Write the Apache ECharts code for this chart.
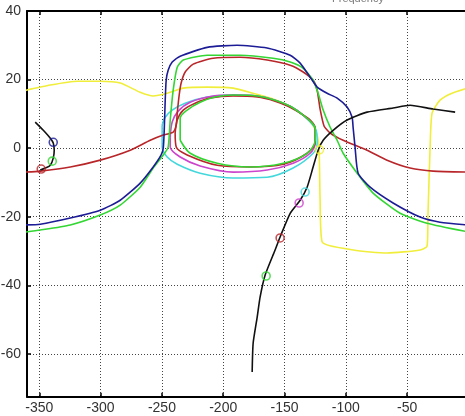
<!DOCTYPE html>
<html>
<head>
<meta charset="utf-8">
<script src="https://cdn.jsdelivr.net/npm/echarts@6/dist/echarts.min.js"></script>
<style>
  html, body { margin: 0; padding: 0; background: #fff; }
  #chart { width: 465px; height: 416px; }
</style>
</head>
<body>
<div id="chart"></div>
<script>
// Tick labels shown on each axis
const xTickValues = [-350, -300, -250, -200, -150, -100, -50];
const yTickValues = [-60, -40, -20, 0, 20, 40];

// Open-loop responses: [phase (deg), gain (dB)]
const blueCurve = [[-362,-22.4],[-349.2,-22.2],[-324.7,-20.4],[-300.3,-18.1],[-284,-15.2],[-267.7,-10.2],[-257.1,-5.5],[-250.6,-2.0],[-248.9,0],[-248.1,5.2],[-247.3,14],[-246.5,19.8],[-244.9,22.7],[-241.6,25.1],[-235.1,26.8],[-213.1,29.4],[-188.6,30],[-164.2,29.2],[-145.4,27.1],[-137.3,24.8],[-129.1,20.7],[-123.4,17.8],[-115.3,16],[-107.1,14.6],[-99,12],[-94.9,9],[-94.1,6.1],[-92.5,0.3],[-90,-7.3],[-80.2,-11.4],[-61.5,-16],[-39.5,-20.1],[-23.2,-21.6],[2,-22.5]];

const greenCurve = [[-362,-24.5],[-349.2,-23.9],[-324.7,-22.4],[-300.3,-19.5],[-284,-16.6],[-267.7,-11.4],[-257.1,-5.8],[-248.9,-2.0],[-244.9,0.3],[-243.2,8.2],[-240.8,16.9],[-237.5,23.6],[-232.6,25.7],[-213.1,27.1],[-186.2,27.1],[-159.3,26.2],[-145.4,25.1],[-134.8,23.3],[-126.7,19.8],[-122.6,16],[-118.5,11.1],[-112.8,6.1],[-107.1,2.3],[-102.2,-1.5],[-90.8,-7.3],[-77.8,-13.1],[-55.8,-19],[-33.8,-21.9],[2,-24.6]];

const greenLoop = [[-235.1,2.3],[-235.1,8.7],[-229.4,11.1],[-218.8,13.4],[-206.6,14.9],[-191.9,15.5],[-172.3,15.2],[-157.7,14.0],[-145.4,12.2],[-134.8,9.6],[-127.5,7.3],[-125,5.8],[-125,2.3],[-131.6,-1.5],[-151.1,-4.4],[-178,-5.5],[-204.9,-4.4],[-226.9,-1.5],[-235.1,2.3]];

const redCurve = [[-362,-7.0],[-349.2,-6.7],[-324.7,-5.5],[-300.3,-3.5],[-275.8,-0.6],[-259.5,2.3],[-248.9,3.8],[-240.8,4.7],[-238.3,6.7],[-237.5,10.2],[-235.9,15.5],[-234.3,19.0],[-231,22.2],[-224.5,24.5],[-208.2,26.2],[-186.2,26.5],[-164.2,25.7],[-145.4,24.2],[-134.8,22.2],[-126.7,19.8],[-123.4,16.9],[-121,11.4],[-117.7,6.4],[-112.8,4.4],[-102.2,2.3],[-82.7,-0.6],[-66.4,-3.5],[-47.6,-5.8],[-28.9,-6.7],[2,-7.0]];

const redLoop = [[-239.2,4.4],[-238.3,0.3],[-229.4,-2.0],[-204.9,-5.0],[-178,-5.5],[-151.1,-4.7],[-131.6,-1.5],[-125,1.7],[-125,5.8],[-129.1,8.2],[-137.3,10.2],[-147.1,12.2],[-157.7,13.7],[-172.3,14.9],[-191.9,15.2],[-210.6,14.6],[-222.9,13.1],[-232.6,11.1],[-237.5,8.2],[-239.2,4.4]];

const magentaLoop = [[-243.2,3.2],[-243.2,0.3],[-235.1,-2.6],[-218.8,-5.2],[-191.9,-7.0],[-164.2,-6.4],[-143,-4.4],[-129.1,-1.5],[-125,1.5],[-125,5.8],[-134.8,9.6],[-145.4,12.2],[-157.7,14.0],[-172.3,15.2],[-191.9,15.5],[-208.2,15.2],[-226.9,13.4],[-236.7,10.8],[-241.6,7.6],[-243.2,3.2]];

const cyanLoop = [[-249.8,6.7],[-249.8,0.3],[-245.7,-2.6],[-237.5,-4.7],[-218.8,-7.3],[-191.9,-8.7],[-164.2,-8.5],[-143,-5.8],[-126.7,-1.5],[-123.4,1.5],[-124.2,5.2],[-134.8,9.6],[-145.4,12.2],[-157.7,14.0],[-172.3,15.2],[-191.9,15.5],[-213.1,14.9],[-231,13.1],[-241.6,11.1],[-247.3,9.0],[-249.8,6.7]];

const yellowCurve = [[-362,16.8],[-341,18.4],[-319,19.5],[-300.3,19.5],[-284,19.0],[-267.7,16.3],[-257.1,15.2],[-245.7,16.0],[-232.6,17.5],[-213.1,17.8],[-191.9,17.5],[-175.6,16.0],[-161.7,14.6],[-145.4,12.2],[-134.8,9.6],[-127.5,7.0],[-123.4,3.8],[-121.8,-0.6],[-121,-15.2],[-119.3,-27.4],[-93.9,-29.7],[-66.4,-30.6],[-39.5,-29.7],[-33.8,-28.6],[-33,-19],[-31.3,0.3],[-29.7,10.2],[-23.2,14.0],[-13.4,16.0],[2,17.8]];

// Loop trajectories
const blackShort = [[-353.3,7.6],[-346.7,5.2],[-341,2.9],[-338.6,1.5],[-337.8,-0.6],[-338.6,-2.9],[-341,-5.0],[-345.1,-5.8],[-349.2,-6.4]];
const blackLong = [[-176.4,-65.3],[-175.6,-56.9],[-172.3,-49.3],[-169.9,-43.4],[-165.8,-37.0],[-157.7,-29.7],[-153.6,-25.9],[-145.4,-19.0],[-137.3,-15.2],[-131.6,-11.4],[-126.7,-5.5],[-122.6,-0.6],[-118.5,2.3],[-110.4,5.2],[-99,8.2],[-82.7,10.5],[-61.5,11.7],[-47.6,12.5],[-28.9,11.4],[-10.9,10.5]];

// Crossing markers
const blueMarks = [[-338.6,1.7]];
const greenMarks = [[-339.4,-3.8],[-165,-37.3]];
const redMarks = [[-348.4,-6.1],[-153.6,-26.2]];
const cyanMarks = [[-133.2,-12.8]];
const magentaMarks = [[-138.1,-16.0]];
const yellowMarks = [[-121.5,-0.5]];

const C = {
  blue: '#1c1c96',
  green: '#33d633',
  red: '#b8262a',
  yellow: '#f0ee3a',
  cyan: '#44d8dc',
  magenta: '#cc44cc',
  black: '#111111'
};

function line(data, color, smooth) {
  return {
    type: 'line', data: data, symbol: 'none', smooth: smooth || 0,
    lineStyle: { color: color, width: 1.6 }, z: 2, silent: true, animation: false
  };
}
function marks(data, color) {
  return {
    type: 'scatter', data: data, symbol: 'circle', symbolSize: 8,
    itemStyle: { color: 'rgba(0,0,0,0)', borderColor: color, borderWidth: 1.6 },
    z: 5, silent: true, animation: false
  };
}

const labelFont = { fontFamily: '"Liberation Sans Narrow", "Liberation Sans", Arial, sans-serif', fontSize: 14, color: '#333' };

const chart = echarts.init(document.getElementById('chart'), null, { renderer: 'canvas' });
chart.setOption({
  animation: false,
  backgroundColor: '#fff',
  grid: { left: 27, top: 11, right: -3.5, bottom: 19.3, outerBoundsMode: 'none', containLabel: false, show: false },
  graphic: [{
    type: 'text', left: 332, top: -7,
    style: { text: 'Frequency', fontSize: 11, fill: '#777', fontFamily: 'Arial, sans-serif' },
    z: 100
  }],
  xAxis: [{
    type: 'value', min: -360, max: 0, splitNumber: 7, position: 'bottom',
    axisLine: { show: true, onZero: false, lineStyle: { color: '#000', width: 2 } },
    axisTick: { show: true, inside: true, length: 4, lineStyle: { color: '#000', width: 1.5 } },
    axisLabel: Object.assign({
      margin: 4, showMinLabel: false, showMaxLabel: false,
      formatter: v => xTickValues.includes(v) ? String(v) : ''
    }, labelFont),
    splitLine: { show: true, lineStyle: { color: '#444', width: 1, type: [1, 2] } }
  }, {
    type: 'value', min: -360, max: 0, splitNumber: 7, position: 'top',
    axisLine: { show: true, onZero: false, lineStyle: { color: '#000', width: 2 } },
    axisTick: { show: true, inside: true, length: 4, lineStyle: { color: '#000', width: 1.5 } },
    axisLabel: { show: false },
    splitLine: { show: false }
  }],
  yAxis: [{
    type: 'value', min: -72.5, max: 40, splitNumber: 5, position: 'left',
    axisLine: { show: true, onZero: false, lineStyle: { color: '#000', width: 2 } },
    axisTick: { show: true, inside: true, length: 4, lineStyle: { color: '#000', width: 1.5 } },
    axisLabel: Object.assign({
      margin: 6, showMinLabel: false,
      formatter: v => yTickValues.includes(v) ? String(v) : ''
    }, labelFont),
    splitLine: { show: true, lineStyle: { color: '#444', width: 1, type: [1, 2] } }
  }],
  series: [
    line(yellowCurve, C.yellow, 0.2),
    line(cyanLoop, C.cyan, 0.3),
    line(magentaLoop, C.magenta, 0.3),
    line(redLoop, C.red, 0.3),
    line(redCurve, C.red, 0.2),
    line(greenLoop, C.green, 0.3),
    line(greenCurve, C.green, 0.2),
    line(blueCurve, C.blue, 0.2),
    line(blackShort, C.black, 0.3),
    line(blackLong, C.black, 0.2),
    marks(blueMarks, C.blue),
    marks(greenMarks, C.green),
    marks(redMarks, C.red),
    marks(cyanMarks, C.cyan),
    marks(magentaMarks, C.magenta),
    marks(yellowMarks, C.yellow)
  ]
});
</script>
</body>
</html>
